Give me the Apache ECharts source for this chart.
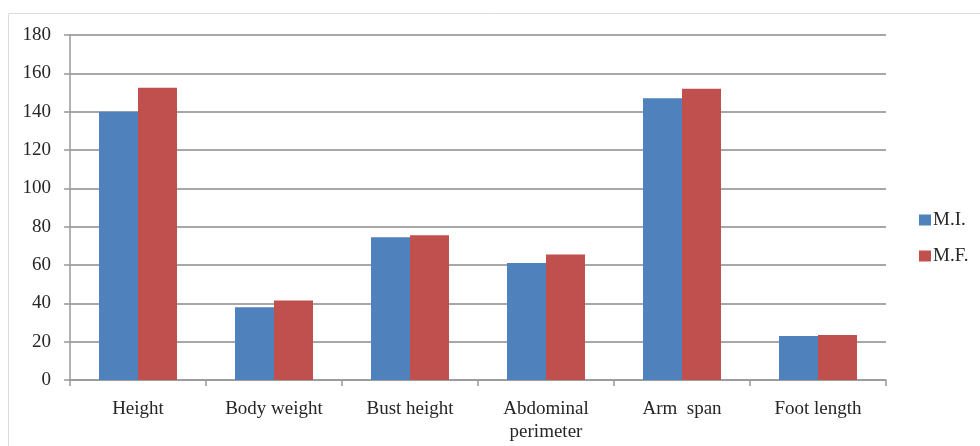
<!DOCTYPE html>
<html>
<head>
<meta charset="utf-8">
<script src="https://cdn.jsdelivr.net/npm/echarts@6/dist/echarts.min.js"></script>
<style>html,body{margin:0;padding:0;background:#fff;}#c{width:980px;height:446px;}</style>
</head>
<body>
<div id="c"></div>
<script>
var categories = ['Height', 'Body weight', 'Bust height', 'Abdominal\nperimeter', 'Arm  span', 'Foot length'];
var seriesNames = ['M.I.', 'M.F.'];
var valuesMI = [140, 38, 74.5, 61, 147, 23];
var valuesMF = [152.5, 41.5, 75.5, 65.5, 152, 23.5];
var yTicks = { min: 0, max: 180, interval: 20 };

var chart = echarts.init(document.getElementById('c'), null, { renderer: 'canvas' });
var font = 'Liberation Serif';
chart.setOption({
  animation: false,
  backgroundColor: '#fff',
  graphic: [{
    type: 'rect', silent: true,
    shape: { x: 8.5, y: 13.5, width: 1000, height: 500 },
    style: { fill: 'none', stroke: '#dcdcdc', lineWidth: 1 }
  }],
  grid: { left: 70, right: 94, top: 35, bottom: 66, containLabel: false },
  legend: {
    orient: 'vertical', left: 914, top: 205, itemGap: 16,
    itemWidth: 12, itemHeight: 11, icon: 'rect',
    textStyle: { fontFamily: font, fontSize: 19, lineHeight: 20, color: '#262626', padding: [0, 0, 0, -3] },
    data: seriesNames
  },
  xAxis: {
    type: 'category', data: categories,
    axisLine: { lineStyle: { color: '#999', width: 1.5 } },
    axisTick: { show: true, length: 6, alignWithLabel: false, lineStyle: { color: '#999', width: 1.5 } },
    axisLabel: { fontFamily: font, fontSize: 19, color: '#262626', margin: 18, lineHeight: 23, interval: 0 }
  },
  yAxis: {
    type: 'value', min: yTicks.min, max: yTicks.max, interval: yTicks.interval,
    axisLine: { show: true, lineStyle: { color: '#999', width: 1.5 } },
    axisTick: { show: true, length: 6, lineStyle: { color: '#999', width: 1.5 } },
    axisLabel: { fontFamily: font, fontSize: 19, color: '#262626', margin: 19 },
    splitLine: { lineStyle: { color: '#a8a8a8', width: 1.8 } }
  },
  series: [
    { name: seriesNames[0], type: 'bar', data: valuesMI, barWidth: 39, barGap: '0%', itemStyle: { color: '#4f81bd' } },
    { name: seriesNames[1], type: 'bar', data: valuesMF, barWidth: 39, barGap: '0%', itemStyle: { color: '#c0504d' } }
  ]
});
</script>
</body>
</html>
